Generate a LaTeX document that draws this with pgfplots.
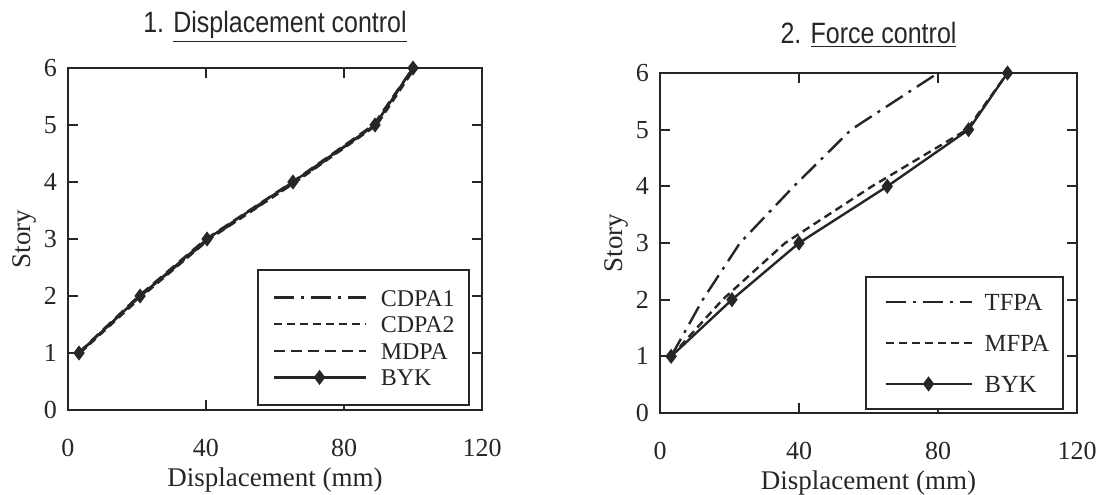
\documentclass[border=0pt]{standalone}
\usepackage{fontspec}
\setmainfont{Liberation Serif}
\newfontfamily\titlefont[FakeStretch=0.85]{Liberation Sans}
\usepackage{pgfplots}
\pgfplotsset{compat=1.18}
\definecolor{ink}{gray}{0.15}
\pgfplotsset{
  mystyle/.style={
    scale only axis,
    xmin=0,xmax=120,ymin=0,ymax=6,
    xtick={0,40,80,120}, ytick={0,1,2,3,4,5,6},
    tick align=inside, major tick length=5pt,
    axis line style={line width=1pt, ink},
    every tick/.style={line width=1pt, ink},
    tick label style={font=\fontsize{13}{15}\selectfont, text=ink},
    label style={font=\fontsize{13.5}{15}\selectfont, text=ink},
    /pgf/number format/assume math mode=true,
    xticklabel style={yshift=-11pt},
    yticklabel style={xshift=-2pt},
    xlabel={Displacement (mm)}, ylabel={Story},
    xlabel style={yshift=1.5pt},
    ylabel style={yshift=-3pt},
    title style={font=\titlefont\fontsize{14.7}{16}\selectfont, text=ink, yshift=3pt},
    legend cell align=left,
    legend style={draw=ink, line width=1pt, text=ink, anchor=south east},
  },
  dashdot/.style={ink, line width=1.2pt, dash pattern=on 10pt off 3.5pt on 1.5pt off 3.5pt},
  shortdash/.style={ink, line width=1.2pt, dash pattern=on 4pt off 2.5pt},
  longdash/.style={ink, line width=1.2pt, dash pattern=on 5.5pt off 3pt},
  byk/.style={ink, line width=1.2pt, solid, mark=diamond*, mark size=2.8pt, mark options={solid, fill=ink}},
}
\begin{document}
\begin{tikzpicture}
\useasboundingbox (0pt,0pt) rectangle (552.5pt,-247pt);
\begin{axis}[mystyle,
  at={(34pt,-205pt)}, anchor=south west, width=207pt, height=171pt,
  title={1. \underline{Displacement control}},
  legend style={at={(rel axis cs:0.97,0.012)}, font=\fontsize{12}{14}\selectfont,
    inner xsep=5pt, inner ysep=9.5pt, row sep=4.8pt,
    nodes={inner ysep=0pt, text height=8.5pt, text depth=0pt}},
  legend image code/.code={\path (0pt,0pt) (53pt,0pt); \draw[overlay,mark repeat=2,mark phase=2,#1] plot coordinates {(2pt,0pt)(25pt,0pt)(48pt,0pt)};},
]
\addplot[dashdot] coordinates {(3.2,1)(21,2)(40.8,3)(65.8,4)(89,5)(100,6)};
\addlegendentry{CDPA1}
\addplot[shortdash] coordinates {(3.5,1)(21.5,2)(41,3)(66,4)(89.5,5)(100.5,6)};
\addlegendentry{CDPA2}
\addplot[longdash] coordinates {(3,1)(20.5,2)(40,3)(65,4)(88.5,5)(100,6)};
\addlegendentry{MDPA}
\addplot[byk] coordinates {(3.2,1)(20.9,2)(40.3,3)(65.2,4)(89,5)(100,6)};
\addlegendentry{BYK}
\end{axis}
\begin{axis}[mystyle,
  at={(330pt,-206.5pt)}, anchor=south west, width=208.5pt, height=170pt,
  title={2. \underline{Force control}},
  legend style={at={(rel axis cs:0.97,0.009)}, font=\fontsize{12.3}{14}\selectfont,
    inner xsep=5pt, inner ysep=8.25pt, row sep=12pt,
    nodes={inner ysep=0pt, text height=8.5pt, text depth=0pt}},
  legend image code/.code={\path (0pt,0pt) (51pt,0pt); \draw[overlay,mark repeat=2,mark phase=2,#1] plot coordinates {(4pt,0pt)(25.5pt,0pt)(47pt,0pt)};},
]
\addplot[dashdot] coordinates {(3.2,1)(12.3,2)(23,3)(38.5,4)(55,5)(80,6)};
\addlegendentry{TFPA}
\addplot[shortdash] coordinates {(3.2,1)(18,2)(36,3)(61,4)(88.3,5)(100,6)};
\addlegendentry{MFPA}
\addplot[byk] coordinates {(3.2,1)(20.7,2)(40,3)(65.4,4)(88.8,5)(100,6)};
\addlegendentry{BYK}
\end{axis}
\end{tikzpicture}
\end{document}
